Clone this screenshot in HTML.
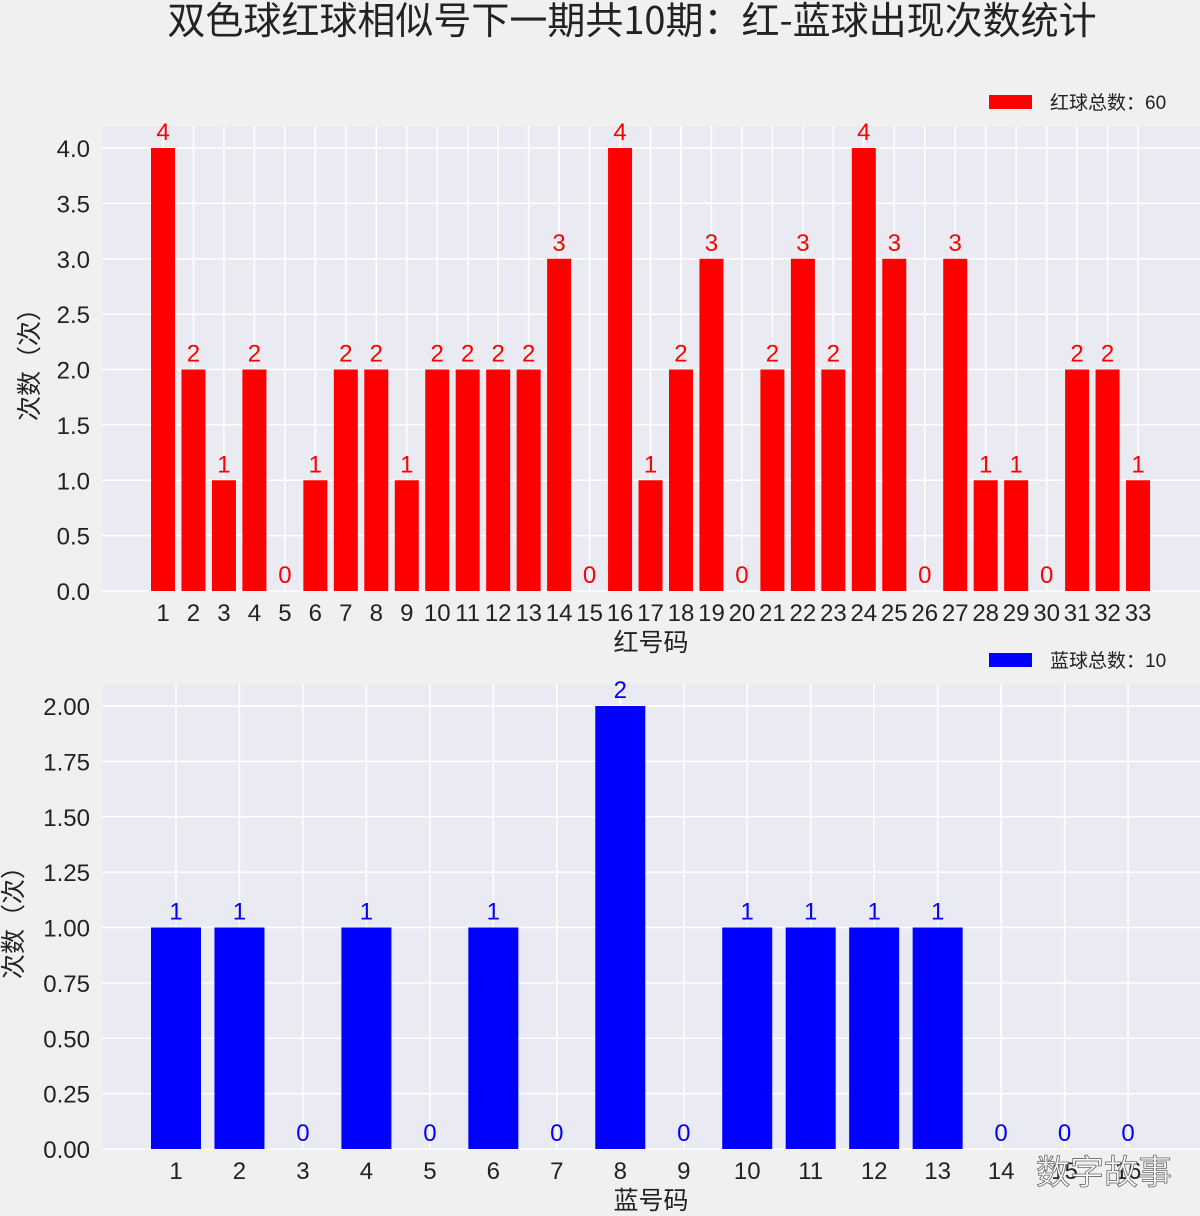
<!DOCTYPE html>
<html><head><meta charset="utf-8">
<style>
body{margin:0;background:#f0f0f0;}
svg{display:block;font-family:"Liberation Sans","Noto Sans CJK SC",sans-serif;}
</style></head>
<body>
<svg id="chart" width="1200" height="1216" xmlns="http://www.w3.org/2000/svg">
<rect width="1200" height="1216" fill="#f0f0f0"/>
<text x="632" y="34" font-size="38" text-anchor="middle" fill="#222" font-family="Noto Sans CJK SC, sans-serif">双色球红球相似号下一期共10期：红-蓝球出现次数统计</text>
<g id="top"></g>
<g id="bot"></g>
<rect x="989" y="95" width="43" height="14" fill="#ff0000"/>
<text x="1050" y="109" font-size="19" fill="#222">红球总数：60</text>
<rect x="989" y="653" width="43" height="14" fill="#0000ff"/>
<text x="1050" y="667" font-size="19" fill="#222">蓝球总数：10</text>
<text x="1104" y="1184" font-size="34" text-anchor="middle" fill="#fff" stroke="#666" stroke-width="0.8">数字故事</text>
</svg>
<script>
const redCats=[1,2,3,4,5,6,7,8,9,10,11,12,13,14,15,16,17,18,19,20,21,22,23,24,25,26,27,28,29,30,31,32,33];
const redVals=[4,2,1,2,0,1,2,2,1,2,2,2,2,3,0,4,1,2,3,0,2,3,2,4,3,0,3,1,1,0,2,2,1];
const redTicks=[0,0.5,1,1.5,2,2.5,3,3.5,4];
const redTickLabels=["0.0","0.5","1.0","1.5","2.0","2.5","3.0","3.5","4.0"];
const blueCats=[1,2,3,4,5,6,7,8,9,10,11,12,13,14,15,16];
const blueVals=[1,1,0,1,0,1,0,2,0,1,1,1,1,0,0,0];
const blueTicks=[0,0.25,0.5,0.75,1,1.25,1.5,1.75,2];
const blueTickLabels=["0.00","0.25","0.50","0.75","1.00","1.25","1.50","1.75","2.00"];
const NS="http://www.w3.org/2000/svg";
function mk(parent,tag,attrs){const e=document.createElementNS(NS,tag);for(const k in attrs)e.setAttribute(k,attrs[k]);parent.appendChild(e);return e;}
function draw(gid,cfg){
  const g=document.getElementById(gid);
  const {cats,vals,ticks,labels,top,bottom,left,right,x0,step,bw,ymax,color,xlabel,ylabelX,tag}=cfg;
  const ys=v=>bottom-(v/ymax)*(bottom-cfg.yTopVal);
  const xs=i=>x0+i*step;
  const bg=mk(g,'rect',{x:left,y:top,width:right-left,height:bottom-top+1,fill:'#eaeaf2'});
  
  
  ticks.forEach((t,i)=>{
    const y=ys(t);
    const l=mk(g,'line',{x1:left,x2:right,y1:y,y2:y,stroke:'#fff','stroke-width':1.5});
    
    
    const tx=mk(g,'text',{x:left-12,y:y+9,'font-size':24,'text-anchor':'end',fill:'#222'});
    tx.textContent=labels[i];
    
    
  });
  cats.forEach((c,i)=>{
    const x=xs(i);
    const l=mk(g,'line',{x1:x,x2:x,y1:top,y2:bottom,stroke:'#fff','stroke-width':1.5});
    
    
  });
  cats.forEach((c,i)=>{
    const x=xs(i),v=vals[i];
    if(v>0){
      const r=mk(g,'rect',{x:x-bw/2,y:ys(v),width:bw,height:bottom-ys(v),fill:color});
      
      
    }
    const vt=mk(g,'text',{x:x,y:ys(v)-8,'font-size':24,'text-anchor':'middle',fill:color});
    vt.textContent=v;
    
    
    const xt=mk(g,'text',{x:x,y:bottom+30,'font-size':24,'text-anchor':'middle',fill:'#222'});
    xt.textContent=c;
    
    
  });
  const xl=mk(g,'text',{x:651,y:bottom+60,'font-size':25,'text-anchor':'middle',fill:'#222'});
  xl.textContent=xlabel;
  
  
  const cy=(top+bottom)/2;
  const yl=mk(g,'text',{x:ylabelX,y:cy,'font-size':25,'text-anchor':'middle',fill:'#222',transform:`rotate(-90 ${ylabelX} ${cy})`});
  yl.textContent='次数（次）';
  
  
}
draw('top',{cats:redCats,vals:redVals,ticks:redTicks,labels:redTickLabels,top:126,bottom:591,left:102,right:1200,x0:163,step:30.47,bw:24,ymax:4,yTopVal:148,color:'#ff0000',xlabel:'红号码',ylabelX:38,tag:'red'});
draw('bot',{cats:blueCats,vals:blueVals,ticks:blueTicks,labels:blueTickLabels,top:684,bottom:1149,left:102,right:1200,x0:176,step:63.47,bw:50,ymax:2,yTopVal:706,color:'#0000ff',xlabel:'蓝号码',ylabelX:22,tag:'blue'});
</script>
</body></html>
